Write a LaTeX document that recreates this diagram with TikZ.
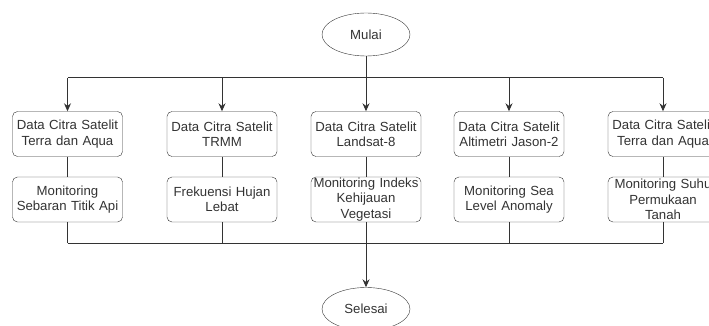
\documentclass[tikz,border=0pt]{standalone}
\usepackage{fontspec}
\setmainfont{Liberation Sans}
\usetikzlibrary{arrows.meta,shapes.geometric}
\definecolor{garis}{HTML}{333333}
\tikzset{
  proses/.style={draw=garis, rounded corners=5pt, text width=110pt, inner xsep=0pt,
    inner ysep=0pt, minimum height=45pt, align=center, text=garis,
    font=\fontsize{13.2}{15.4}\selectfont},
  terminal/.style={draw=garis, ellipse, minimum width=88pt, minimum height=43pt,
    inner sep=0pt, text=garis, font=\fontsize{13.2}{15.4}\selectfont},
  alur/.style={draw=garis, line width=1pt},
  panah/.style={alur, -{Stealth[length=8pt,width=7pt]}}
}
\begin{document}
\begin{tikzpicture}[x=1pt,y=-1pt]
        \clip (0,0) rectangle (709,326);
        \def\ya{134}
        \def\yb{199.5}
        \node[terminal] (M) at (366,34.5) {Mulai};
        \node[proses] (A0_0) at (67.5,\ya) {Data Citra Satelit\\Terra dan Aqua};
        \node[proses] (A0_1) at (222,\ya) {Data Citra Satelit\\TRMM};
        \node[proses] (A0_2) at (366,\ya) {Data Citra Satelit\\Landsat-8};
        \node[proses] (A0_3) at (509,\ya) {Data Citra Satelit\\Altimetri Jason-2};
        \node[proses] (A0_4) at (663,\ya) {Data Citra Satelit\\Terra dan Aqua};
        \node[proses] (A1_0) at (67.5,\yb) {Monitoring\\Sebaran Titik Api};
        \node[proses] (A1_1) at (222,\yb) {Frekuensi Hujan\\Lebat};
        \node[proses] (A1_2) at (366,\yb) {Monitoring Indeks\\Kehijauan\\Vegetasi};
        \node[proses] (A1_3) at (509,\yb) {Monitoring Sea\\Level Anomaly};
        \node[proses] (A1_4) at (663,\yb) {Monitoring Suhu\\Permukaan\\Tanah};
        \node[terminal] (S) at (366,309) {Selesai};
        \coordinate (T) at (366,78);
        \coordinate (B) at (366,243);
        % percabangan atas
        \path[alur] (M) -- (T);
        \path[alur] (A0_0 |- T) -- (A0_4 |- T);
        \foreach \i in {0,...,4}
          \path[panah] (A0_\i |- T) -- (A0_\i);
        % proses ke hasil
        \foreach \i in {0,...,4} {
          \path[alur] (A0_\i) -- (A1_\i);
          \path[alur] (A1_\i) -- (A1_\i |- B);
        }
        % penggabungan bawah
        \path[alur] (A1_0 |- B) -- (A1_4 |- B);
        \path[panah] (A1_2) -- (S);
      \end{tikzpicture}
\end{document}
